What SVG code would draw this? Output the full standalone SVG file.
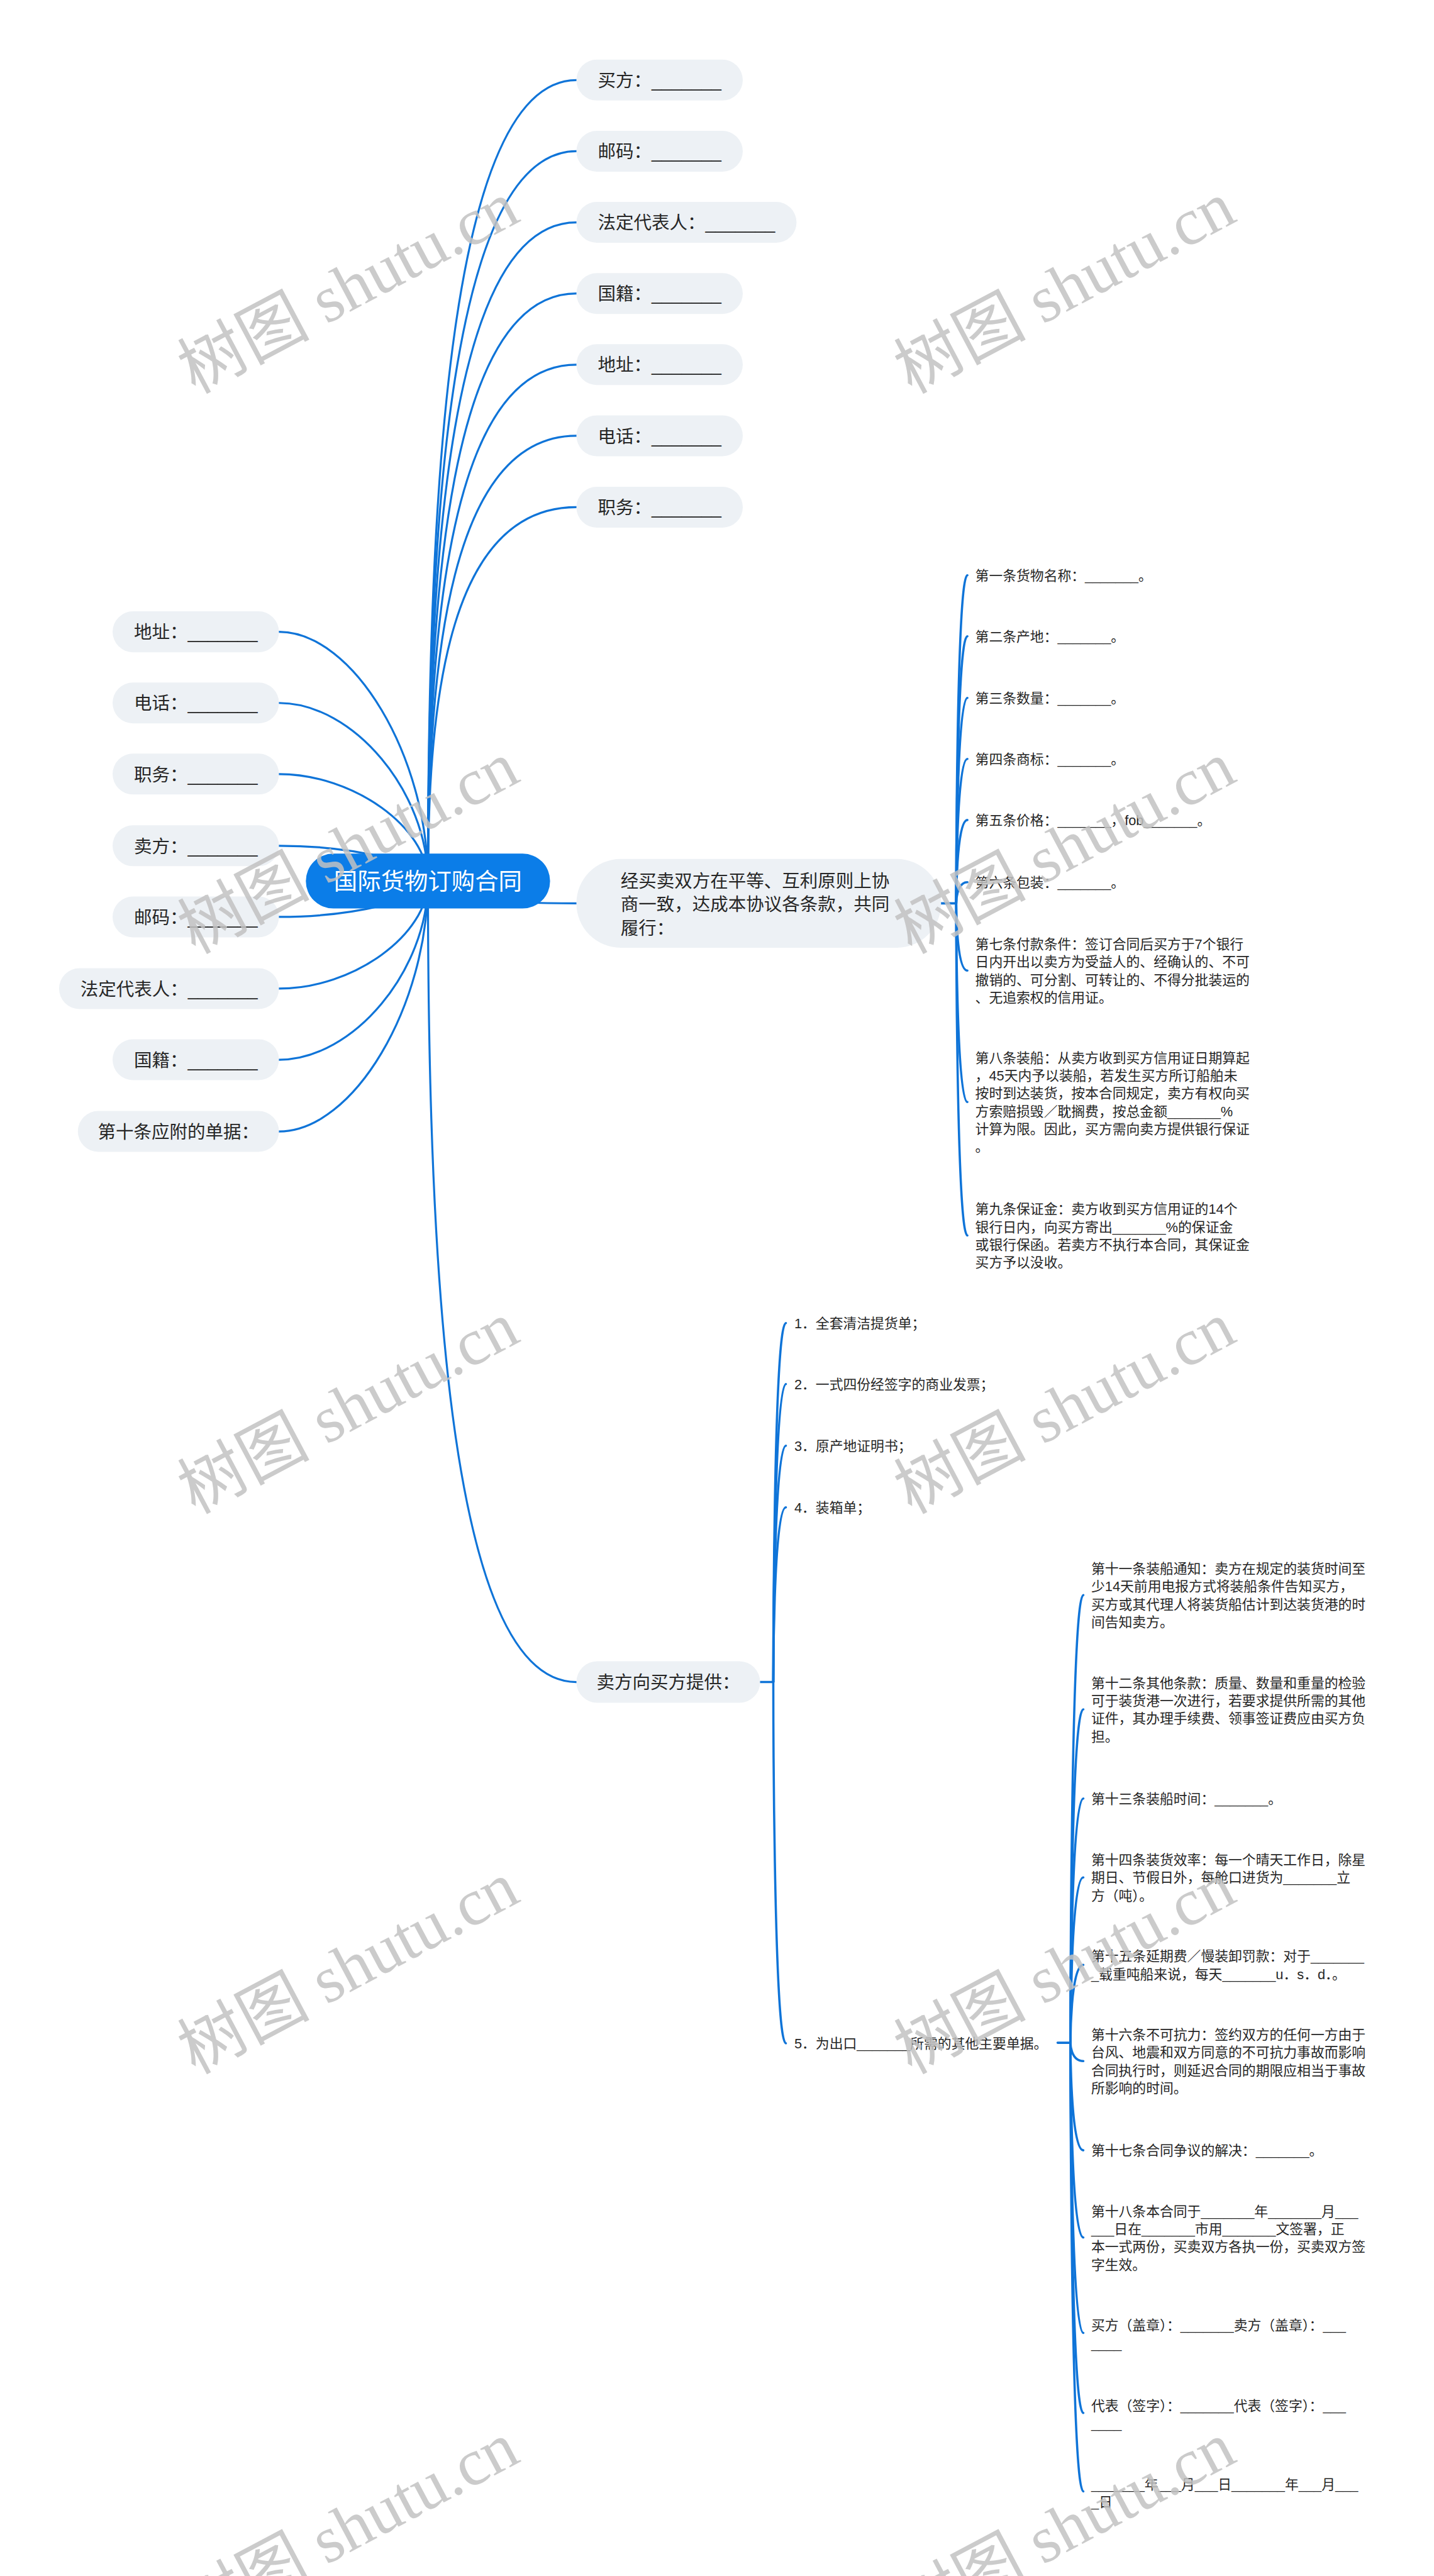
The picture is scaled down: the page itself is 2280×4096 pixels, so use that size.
<svg xmlns="http://www.w3.org/2000/svg" width="2280" height="4096" viewBox="0 0 2280 4096">
<style>
.pill{fill:#edf1f5}
.t{font-family:"Liberation Sans","Noto Sans CJK SC",sans-serif;fill:#262626}
.t32{font-size:32px}
.t24{font-size:24.5px}
.root{font-family:"Liberation Sans","Noto Sans CJK SC",sans-serif;font-size:42px;fill:#ffffff}
.c{fill:none;stroke:#0f74d8;stroke-width:3.6;stroke-linecap:round}
.b{fill:none;stroke:#0f74d8;stroke-width:4;stroke-linecap:round}
.wm{font-family:"Liberation Serif","Noto Sans CJK SC",serif;font-size:118px;fill:#c2c2c2;opacity:0.85}
</style>
<rect width="2280" height="4096" fill="#ffffff"/>
<g transform="scale(0.890625)">
<g id="connectors">
<path class="c" d="M764,1573 C764,858 804,143 1029,143"/>
<path class="c" d="M764,1573 C764,921.5 804,270 1029,270"/>
<path class="c" d="M764,1573 C764,985 804,397 1029,397"/>
<path class="c" d="M764,1573 C764,1048.5 804,524 1029,524"/>
<path class="c" d="M764,1573 C764,1112 804,651 1029,651"/>
<path class="c" d="M764,1573 C764,1175.5 804,778 1029,778"/>
<path class="c" d="M764,1573 C764,1239 804,905.5 1029,905.5"/>
<path class="c" d="M764,1573 C764,1593 804,1612.8 1029,1612.8"/>
<path class="c" d="M764,1573 C764,2288 804,3003 1029,3003"/>
<path class="c" d="M764,1573 C764,1350.5 631,1128 498,1128"/>
<path class="c" d="M764,1573 C764,1414 631,1255 498,1255"/>
<path class="c" d="M764,1573 C764,1477.5 631,1382 498,1382"/>
<path class="c" d="M764,1573 C764,1541.5 631,1510 498,1510"/>
<path class="c" d="M764,1573 C764,1605 631,1637 498,1637"/>
<path class="c" d="M764,1573 C764,1669 631,1765 498,1765"/>
<path class="c" d="M764,1573 C764,1732.5 631,1892 498,1892"/>
<path class="c" d="M764,1573 C764,1796.5 631,2020 498,2020"/>
<path class="b" d="M1680,1612.8 L1707,1612.8"/>
<path class="b" d="M1707,1612.8 C1707,1612.8 1707,1027 1727,1027"/>
<path class="b" d="M1707,1612.8 C1707,1612.8 1707,1136 1727,1136"/>
<path class="b" d="M1707,1612.8 C1707,1612.8 1707,1246 1727,1246"/>
<path class="b" d="M1707,1612.8 C1707,1612.8 1707,1355 1727,1355"/>
<path class="b" d="M1707,1612.8 C1707,1612.8 1707,1464 1727,1464"/>
<path class="b" d="M1707,1612.8 C1707,1612.8 1707,1575 1727,1575"/>
<path class="b" d="M1707,1612.8 C1707,1612.8 1707,1732.7 1727,1732.7"/>
<path class="b" d="M1707,1612.8 C1707,1612.8 1707,1967.5 1727,1967.5"/>
<path class="b" d="M1707,1612.8 C1707,1612.8 1707,2205.7 1727,2205.7"/>
<path class="b" d="M1357,3003 L1380.5,3003"/>
<path class="b" d="M1380.5,3003 C1380.5,3003 1380.5,2362 1403,2362"/>
<path class="b" d="M1380.5,3003 C1380.5,3003 1380.5,2471 1403,2471"/>
<path class="b" d="M1380.5,3003 C1380.5,3003 1380.5,2581 1403,2581"/>
<path class="b" d="M1380.5,3003 C1380.5,3003 1380.5,2691 1403,2691"/>
<path class="b" d="M1380.5,3003 C1380.5,3003 1380.5,3648 1403,3648"/>
<path class="b" d="M1888,3647 L1911,3647"/>
<path class="b" d="M1911,3647 C1911,3647 1911,2847.7 1934,2847.7"/>
<path class="b" d="M1911,3647 C1911,3647 1911,3051.7 1934,3051.7"/>
<path class="b" d="M1911,3647 C1911,3647 1911,3211 1934,3211"/>
<path class="b" d="M1911,3647 C1911,3647 1911,3351.8 1934,3351.8"/>
<path class="b" d="M1911,3647 C1911,3647 1911,3507.9 1934,3507.9"/>
<path class="b" d="M1911,3647 C1911,3647 1911,3679.7 1934,3679.7"/>
<path class="b" d="M1911,3647 C1911,3647 1911,3839 1934,3839"/>
<path class="b" d="M1911,3647 C1911,3647 1911,3994.7 1934,3994.7"/>
<path class="b" d="M1911,3647 C1911,3647 1911,4165 1934,4165"/>
<path class="b" d="M1911,3647 C1911,3647 1911,4308 1934,4308"/>
<path class="b" d="M1911,3647 C1911,3647 1911,4448 1934,4448"/>
</g>

<g id="root">
<rect x="546" y="1524" width="436" height="98" rx="49" fill="#0b7de8"/>
<text class="root" x="764" y="1589" text-anchor="middle">国际货物订购合同</text>
</g>

<g id="r-buyer"><rect class="pill" x="1029" y="106.5" width="297" height="73" rx="36.5"/><text class="t t32" x="1177.5" y="155" text-anchor="middle">买方：_______</text></g>
<g id="r-post"><rect class="pill" x="1029" y="233.5" width="297" height="73" rx="36.5"/><text class="t t32" x="1177.5" y="282" text-anchor="middle">邮码：_______</text></g>
<g id="r-legal"><rect class="pill" x="1029" y="360.5" width="393" height="73" rx="36.5"/><text class="t t32" x="1225.5" y="409" text-anchor="middle">法定代表人：_______</text></g>
<g id="r-nation"><rect class="pill" x="1029" y="487.5" width="297" height="73" rx="36.5"/><text class="t t32" x="1177.5" y="536" text-anchor="middle">国籍：_______</text></g>
<g id="r-addr"><rect class="pill" x="1029" y="614.5" width="297" height="73" rx="36.5"/><text class="t t32" x="1177.5" y="663" text-anchor="middle">地址：_______</text></g>
<g id="r-tel"><rect class="pill" x="1029" y="741.5" width="297" height="73" rx="36.5"/><text class="t t32" x="1177.5" y="790" text-anchor="middle">电话：_______</text></g>
<g id="r-title"><rect class="pill" x="1029" y="869" width="297" height="73" rx="36.5"/><text class="t t32" x="1177.5" y="917.5" text-anchor="middle">职务：_______</text></g>

<g id="l-addr"><rect class="pill" x="201" y="1091.5" width="297" height="73" rx="36.5"/><text class="t t32" x="349.5" y="1140" text-anchor="middle">地址：_______</text></g>
<g id="l-tel"><rect class="pill" x="201" y="1218.5" width="297" height="73" rx="36.5"/><text class="t t32" x="349.5" y="1267" text-anchor="middle">电话：_______</text></g>
<g id="l-title"><rect class="pill" x="201" y="1345.5" width="297" height="73" rx="36.5"/><text class="t t32" x="349.5" y="1394" text-anchor="middle">职务：_______</text></g>
<g id="l-seller"><rect class="pill" x="201" y="1473.5" width="297" height="73" rx="36.5"/><text class="t t32" x="349.5" y="1522" text-anchor="middle">卖方：_______</text></g>
<g id="l-post"><rect class="pill" x="201" y="1600.5" width="297" height="73" rx="36.5"/><text class="t t32" x="349.5" y="1649" text-anchor="middle">邮码：_______</text></g>
<g id="l-legal"><rect class="pill" x="105.5" y="1728.5" width="392.5" height="73" rx="36.5"/><text class="t t32" x="301.7" y="1777" text-anchor="middle">法定代表人：_______</text></g>
<g id="l-nation"><rect class="pill" x="201" y="1855.5" width="297" height="73" rx="36.5"/><text class="t t32" x="349.5" y="1904" text-anchor="middle">国籍：_______</text></g>
<g id="l-docs"><rect class="pill" x="139" y="1983.5" width="359" height="73" rx="36.5"/><text class="t t32" x="318.5" y="2032" text-anchor="middle">第十条应附的单据：</text></g>

<g id="agree">
<rect class="pill" x="1029" y="1533.6" width="651" height="158.4" rx="79"/>
<text class="t t32"><tspan x="1108" y="1583.8">经买卖双方在平等、互利原则上协</tspan><tspan x="1108" y="1626.2">商一致，达成本协议各条款，共同</tspan><tspan x="1108" y="1668.6">履行：</tspan></text>
</g>
<g id="a1"><text class="t t24" x="1741" y="1036.3">第一条货物名称：_______。</text></g>
<g id="a2"><text class="t t24" x="1741" y="1145.3">第二条产地：_______。</text></g>
<g id="a3"><text class="t t24" x="1741" y="1255.3">第三条数量：_______。</text></g>
<g id="a4"><text class="t t24" x="1741" y="1364.3">第四条商标：_______。</text></g>
<g id="a5"><text class="t t24" x="1741" y="1473.3">第五条价格：_______，fob_______。</text></g>
<g id="a6"><text class="t t24" x="1741" y="1584.3">第六条包装：_______。</text></g>
<g id="a7"><text class="t t24"><tspan x="1741" y="1694.3">第七条付款条件：签订合同后买方于7个银行</tspan><tspan x="1741" y="1726.1">日内开出以卖方为受益人的、经确认的、不可</tspan><tspan x="1741" y="1757.9">撤销的、可分割、可转让的、不得分批装运的</tspan><tspan x="1741" y="1789.7">、无追索权的信用证。</tspan></text></g>
<g id="a8"><text class="t t24"><tspan x="1741" y="1897.3">第八条装船：从卖方收到买方信用证日期算起</tspan><tspan x="1741" y="1929.1">，45天内予以装船，若发生买方所订船舶未</tspan><tspan x="1741" y="1960.9">按时到达装货，按本合同规定，卖方有权向买</tspan><tspan x="1741" y="1992.7">方索赔损毁／耽搁费，按总金额_______%</tspan><tspan x="1741" y="2024.5">计算为限。因此，买方需向卖方提供银行保证</tspan><tspan x="1741" y="2056.3">。</tspan></text></g>
<g id="a9"><text class="t t24"><tspan x="1741" y="2167.3">第九条保证金：卖方收到买方信用证的14个</tspan><tspan x="1741" y="2199.1">银行日内，向买方寄出_______%的保证金</tspan><tspan x="1741" y="2230.9">或银行保函。若卖方不执行本合同，其保证金</tspan><tspan x="1741" y="2262.7">买方予以没收。</tspan></text></g>

<g id="provide">
<rect class="pill" x="1029" y="2966" width="328" height="74" rx="37"/>
<text class="t t32" x="1193" y="3015" text-anchor="middle">卖方向买方提供：</text>
</g>
<g id="b1"><text class="t t24" x="1418" y="2371.3">1．全套清洁提货单；</text></g>
<g id="b2"><text class="t t24" x="1418" y="2480.3">2．一式四份经签字的商业发票；</text></g>
<g id="b3"><text class="t t24" x="1418" y="2590.3">3．原产地证明书；</text></g>
<g id="b4"><text class="t t24" x="1418" y="2700.3">4．装箱单；</text></g>
<g id="b5"><text class="t t24" x="1418" y="3657.3">5．为出口_______所需的其他主要单据。</text></g>

<g id="c11"><text class="t t24"><tspan x="1948" y="2809.3">第十一条装船通知：卖方在规定的装货时间至</tspan><tspan x="1948" y="2841.1">少14天前用电报方式将装船条件告知买方，</tspan><tspan x="1948" y="2872.9">买方或其代理人将装货船估计到达装货港的时</tspan><tspan x="1948" y="2904.7">间告知卖方。</tspan></text></g>
<g id="c12"><text class="t t24"><tspan x="1948" y="3013.3">第十二条其他条款：质量、数量和重量的检验</tspan><tspan x="1948" y="3045.1">可于装货港一次进行，若要求提供所需的其他</tspan><tspan x="1948" y="3076.9">证件，其办理手续费、领事签证费应由买方负</tspan><tspan x="1948" y="3108.7">担。</tspan></text></g>
<g id="c13"><text class="t t24" x="1948" y="3220.3">第十三条装船时间：_______。</text></g>
<g id="c14"><text class="t t24"><tspan x="1948" y="3329.3">第十四条装货效率：每一个晴天工作日，除星</tspan><tspan x="1948" y="3361.1">期日、节假日外，每舱口进货为_______立</tspan><tspan x="1948" y="3392.9">方（吨）。</tspan></text></g>
<g id="c15"><text class="t t24"><tspan x="1948" y="3501.3">第十五条延期费／慢装卸罚款：对于_______</tspan><tspan x="1948" y="3533.1">_载重吨船来说，每天_______u．s．d．。</tspan></text></g>
<g id="c16"><text class="t t24"><tspan x="1948" y="3641.3">第十六条不可抗力：签约双方的任何一方由于</tspan><tspan x="1948" y="3673.1">台风、地震和双方同意的不可抗力事故而影响</tspan><tspan x="1948" y="3704.9">合同执行时，则延迟合同的期限应相当于事故</tspan><tspan x="1948" y="3736.7">所影响的时间。</tspan></text></g>
<g id="c17"><text class="t t24" x="1948" y="3848.3">第十七条合同争议的解决：_______。</text></g>
<g id="c18"><text class="t t24"><tspan x="1948" y="3956.3">第十八条本合同于_______年_______月___</tspan><tspan x="1948" y="3988.1">___日在_______市用_______文签署，正</tspan><tspan x="1948" y="4019.9">本一式两份，买卖双方各执一份，买卖双方签</tspan><tspan x="1948" y="4051.7">字生效。</tspan></text></g>
<g id="c19"><text class="t t24"><tspan x="1948" y="4160.3">买方（盖章）：_______卖方（盖章）：___</tspan><tspan x="1948" y="4192.1">____</tspan></text></g>
<g id="c20"><text class="t t24"><tspan x="1948" y="4303.3">代表（签字）：_______代表（签字）：___</tspan><tspan x="1948" y="4335.1">____</tspan></text></g>
<g id="c21"><text class="t t24"><tspan x="1948" y="4443.8">_______年___月___日_______年___月___</tspan><tspan x="1948" y="4475.6">_日</tspan></text></g>

<g id="watermarks">
<text class="wm" transform="translate(348,704) rotate(-28)">树图 shutu.cn</text>
<text class="wm" transform="translate(1627,704) rotate(-28)">树图 shutu.cn</text>
<text class="wm" transform="translate(348,1704) rotate(-28)">树图 shutu.cn</text>
<text class="wm" transform="translate(1627,1704) rotate(-28)">树图 shutu.cn</text>
<text class="wm" transform="translate(348,2704) rotate(-28)">树图 shutu.cn</text>
<text class="wm" transform="translate(1627,2704) rotate(-28)">树图 shutu.cn</text>
<text class="wm" transform="translate(348,3704) rotate(-28)">树图 shutu.cn</text>
<text class="wm" transform="translate(1627,3704) rotate(-28)">树图 shutu.cn</text>
<text class="wm" transform="translate(348,4704) rotate(-28)">树图 shutu.cn</text>
<text class="wm" transform="translate(1627,4704) rotate(-28)">树图 shutu.cn</text>
</g>
</g>
</svg>
